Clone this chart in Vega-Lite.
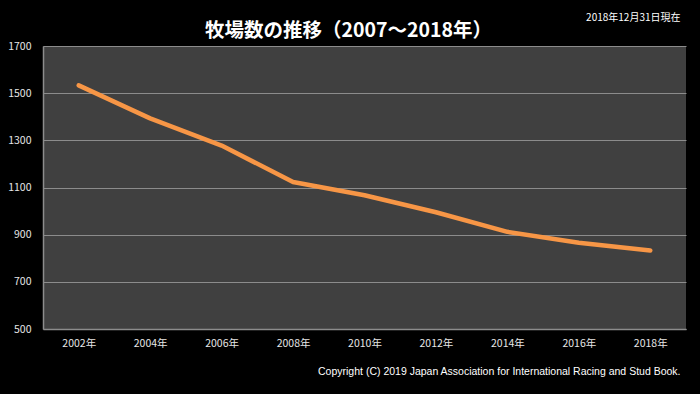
{
  "$schema": "https://vega.github.io/schema/vega-lite/v6.json",
  "width": 643,
  "height": 283,
  "autosize": {"type": "none"},
  "padding": {"left": 43, "top": 46, "right": 14, "bottom": 65},
  "background": "#000000",
  "title": {
    "text": "牧場数の推移（2007～2018年）",
    "font": "Noto Sans CJK JP",
    "fontSize": 19.5,
    "fontWeight": "bold",
    "color": "#ffffff",
    "anchor": "middle",
    "dx": -16,
    "offset": -29
  },
  "data": {
    "values": [
      {"year": "2002年", "farms": 1533},
      {"year": "2004年", "farms": 1393},
      {"year": "2006年", "farms": 1278},
      {"year": "2008年", "farms": 1123},
      {"year": "2010年", "farms": 1067},
      {"year": "2012年", "farms": 995},
      {"year": "2014年", "farms": 912},
      {"year": "2016年", "farms": 866},
      {"year": "2018年", "farms": 833}
    ]
  },
  "mark": {"type": "line", "color": "#F79646", "strokeWidth": 4.5, "strokeCap": "round", "strokeJoin": "round"},
  "encoding": {
    "x": {
      "field": "year",
      "type": "ordinal",
      "scale": {"type": "point", "padding": 0.5},
      "axis": {
        "labelAngle": 0,
        "ticks": false,
        "grid": false,
        "domain": true,
        "domainColor": "#8c8c8c",
        "domainWidth": 1.5,
        "labelColor": "#e6e6e6",
        "labelFont": "Noto Sans CJK JP",
        "labelFontSize": 10.5,
        "labelPadding": 9,
        "title": "Copyright (C) 2019 Japan Association for International Racing and Stud Book.",
        "titleFont": "Liberation Sans",
        "titleFontSize": 10.5,
        "titleFontWeight": "normal",
        "titleColor": "#ffffff",
        "titleAlign": "right",
        "titleBaseline": "middle",
        "titleX": 637,
        "titleY": 42
      }
    },
    "y": {
      "field": "farms",
      "type": "quantitative",
      "scale": {"domain": [500, 1700], "nice": false, "zero": false},
      "axis": {
        "values": [500, 700, 900, 1100, 1300, 1500, 1700],
        "format": "d",
        "ticks": false,
        "domain": true,
        "domainColor": "#8c8c8c",
        "domainWidth": 1.5,
        "grid": true,
        "gridColor": "#8c8c8c",
        "gridWidth": 1,
        "labelColor": "#e6e6e6",
        "labelFont": "Noto Sans CJK JP",
        "labelFontSize": 10.5,
        "labelPadding": 12,
        "title": "2018年12月31日現在",
        "titleFont": "Noto Sans CJK JP",
        "titleFontSize": 10,
        "titleFontWeight": "normal",
        "titleColor": "#ffffff",
        "titleAngle": 0,
        "titleAlign": "right",
        "titleBaseline": "middle",
        "titleX": 637,
        "titleY": -29
      }
    }
  },
  "config": {
    "view": {"fill": "#404040", "stroke": null}
  }
}
